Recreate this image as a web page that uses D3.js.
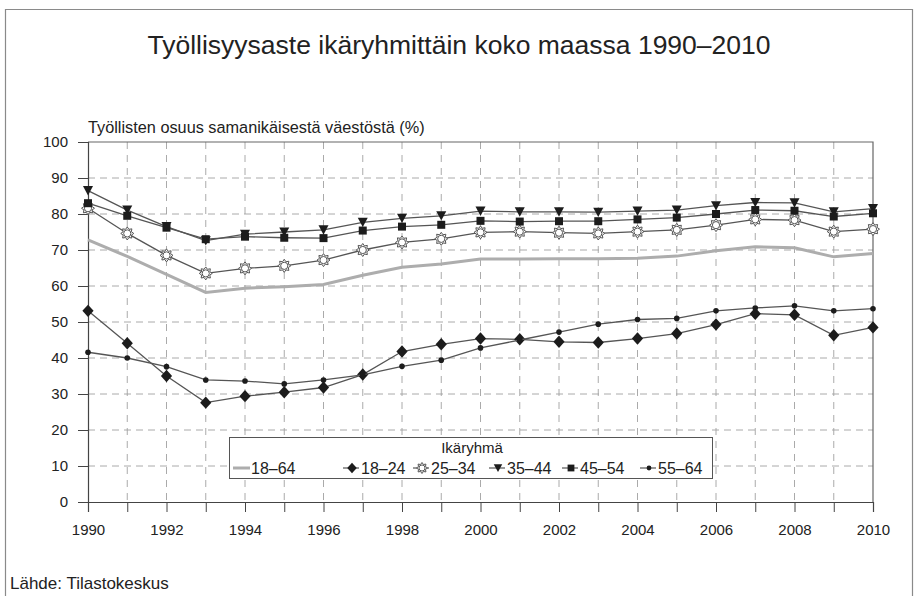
<!DOCTYPE html>
<html>
<head>
<meta charset="utf-8">
<script src="https://cdn.jsdelivr.net/npm/d3@7"></script>
<style>
  html, body { margin: 0; padding: 0; background: #fff; }
  svg { display: block; font-family: "Liberation Sans", Arial, sans-serif; }
</style>
</head>
<body>
<svg id="chart" width="920" height="596"></svg>
<script>
// Employment rate by age group, whole country, 1990–2010 (%)
const years = [1990, 1991, 1992, 1993, 1994, 1995, 1996, 1997, 1998, 1999, 2000,
               2001, 2002, 2003, 2004, 2005, 2006, 2007, 2008, 2009, 2010];
const xTickLabels = [1990, 1992, 1994, 1996, 1998, 2000, 2002, 2004, 2006, 2008, 2010];
const yTicks = [0, 10, 20, 30, 40, 50, 60, 70, 80, 90, 100];

const age18_64 = [72.8, 68.2, 63.2, 58.2, 59.4, 59.8, 60.4, 63.0, 65.2, 66.1, 67.5,
                  67.5, 67.6, 67.6, 67.7, 68.3, 69.8, 70.9, 70.6, 68.1, 69.0];
const age18_24 = [53.1, 44.1, 35.0, 27.6, 29.4, 30.5, 31.8, 35.4, 41.8, 43.8, 45.4,
                  45.2, 44.5, 44.3, 45.4, 46.8, 49.3, 52.3, 52.0, 46.3, 48.5];
const age25_34 = [81.6, 74.6, 68.5, 63.5, 64.9, 65.6, 67.2, 70.0, 72.1, 73.1, 74.9,
                  75.1, 74.8, 74.6, 75.1, 75.6, 76.9, 78.5, 78.3, 75.1, 75.8];
const age35_44 = [86.5, 81.1, 76.5, 72.6, 74.4, 75.0, 75.6, 77.7, 78.8, 79.5, 80.8,
                  80.6, 80.6, 80.5, 80.8, 81.1, 82.3, 83.2, 83.1, 80.6, 81.5];
const age45_54 = [83.0, 79.5, 76.2, 73.0, 73.7, 73.4, 73.3, 75.4, 76.5, 77.0, 78.1,
                  77.9, 78.0, 78.0, 78.5, 79.0, 80.0, 81.1, 80.9, 79.3, 80.2];
const age55_64 = [41.6, 40.0, 37.6, 33.9, 33.6, 32.8, 33.9, 35.3, 37.7, 39.4, 42.8,
                  45.0, 47.2, 49.4, 50.7, 51.0, 53.1, 53.9, 54.5, 53.1, 53.7];

const seriesNames = ["18–64", "18–24", "25–34", "35–44", "45–54", "55–64"];
const seriesValues = [age18_64, age18_24, age25_34, age35_44, age45_54, age55_64];
const markerKinds = ["none", "diamond", "sun", "triangle", "square", "dot"];

const titleText = "Työllisyysaste ikäryhmittäin koko maassa 1990–2010";
const yAxisTitle = "Työllisten osuus samanikäisestä väestöstä (%)";
const legendTitle = "Ikäryhmä";
const sourceText = "Lähde: Tilastokeskus";

const svg = d3.select("#chart");

// outer frame
svg.append("path")
  .attr("d", "M5.5,600 V9.5 H912.5 V600")
  .attr("fill", "none").attr("stroke", "#8a8a8a").attr("stroke-width", 1.2);

svg.append("text")
  .attr("x", 459).attr("y", 54)
  .attr("text-anchor", "middle")
  .attr("font-size", 26.5).attr("fill", "#222")
  .text(titleText);

svg.append("text")
  .attr("x", 88).attr("y", 133)
  .attr("font-size", 16.3).attr("fill", "#222")
  .text(yAxisTitle);

svg.append("text")
  .attr("x", 10).attr("y", 589)
  .attr("font-size", 17).attr("fill", "#222")
  .text(sourceText);

const plot = { left: 88, right: 873, top: 142, bottom: 502 };
const x = d3.scaleLinear().domain([years[0], years[years.length - 1]]).range([plot.left, plot.right]);
const y = d3.scaleLinear().domain([0, 100]).range([plot.bottom, plot.top]);

// grid
const grid = svg.append("g").attr("stroke", "#a0a0a0").attr("stroke-width", 0.9);
grid.selectAll("line.h").data(yTicks.filter(v => v > 0 && v < 100)).join("line")
  .attr("x1", plot.left).attr("x2", plot.right)
  .attr("y1", d => y(d)).attr("y2", d => y(d))
  .attr("stroke-dasharray", "7,5");
grid.selectAll("line.v").data(years.slice(1, -1)).join("line")
  .attr("x1", d => x(d)).attr("x2", d => x(d))
  .attr("y1", plot.top).attr("y2", plot.bottom)
  .attr("stroke-dasharray", "7,6");

// plot frame: top and right
svg.append("path")
  .attr("d", `M${plot.left},${y(100)} H${plot.right} V${plot.bottom}`)
  .attr("fill", "none").attr("stroke", "#666").attr("stroke-width", 1.2);

// axes
const yAxis = svg.append("g")
  .attr("transform", `translate(${plot.left},0)`)
  .call(d3.axisLeft(y).tickValues(yTicks).tickSize(10).tickPadding(10));
const xAxis = svg.append("g")
  .attr("transform", `translate(0,${plot.bottom})`)
  .call(d3.axisBottom(x).tickValues(years).tickSize(10).tickPadding(12)
        .tickFormat(d => xTickLabels.includes(d) ? String(d) : ""));
[yAxis, xAxis].forEach(a => {
  a.select(".domain").attr("stroke", "#444").attr("stroke-width", 1.2);
  a.selectAll(".tick line").attr("stroke", "#444");
  a.selectAll(".tick text").attr("font-size", 15).attr("fill", "#222")
    .attr("font-family", "Liberation Sans, Arial, sans-serif");
});

// marker shapes
function sunPath(r) {
  const pts = [];
  const n = 8;
  for (let i = 0; i < n * 2; i++) {
    const a = Math.PI * i / n;
    const rr = i % 2 === 0 ? r : r * 0.68;
    pts.push([Math.cos(a) * rr, Math.sin(a) * rr]);
  }
  return "M" + pts.map(p => p.join(",")).join("L") + "Z";
}
function drawMarker(g, kind, scale) {
  const s = scale || 1;
  if (kind === "diamond") {
    g.append("path")
      .attr("d", `M0,${-6.2 * s}L${5.6 * s},0L0,${6.2 * s}L${-5.6 * s},0Z`)
      .attr("fill", "#1c1c1c");
  } else if (kind === "sun") {
    g.append("path").attr("d", sunPath(6.5 * s))
      .attr("fill", "#fff").attr("stroke", "#555").attr("stroke-width", 1);
    g.append("circle").attr("r", 3.6 * s)
      .attr("fill", "#fff").attr("stroke", "#555").attr("stroke-width", 1);
  } else if (kind === "triangle") {
    g.append("path")
      .attr("d", `M${-5 * s},${-4.5 * s}L${5 * s},${-4.5 * s}L0,${4.8 * s}Z`)
      .attr("fill", "#1c1c1c");
  } else if (kind === "square") {
    g.append("rect").attr("x", -4 * s).attr("y", -4 * s)
      .attr("width", 8 * s).attr("height", 8 * s).attr("fill", "#1c1c1c");
  } else if (kind === "dot") {
    g.append("circle").attr("r", 2.8 * s).attr("fill", "#1c1c1c");
  }
}

const line = d3.line().x(d => x(d.year)).y(d => y(d.value));

// draw series: total line first, then age groups
seriesValues.forEach((vals, i) => {
  const pts = years.map((yr, j) => ({ year: yr, value: vals[j] }));
  const g = svg.append("g").attr("class", "series");
  if (markerKinds[i] === "none") {
    g.append("path").attr("d", line(pts))
      .attr("fill", "none").attr("stroke", "#adadad").attr("stroke-width", 3);
  } else {
    g.append("path").attr("d", line(pts))
      .attr("fill", "none").attr("stroke", "#555").attr("stroke-width", 1.3);
    pts.forEach(p => {
      const m = g.append("g").attr("transform", `translate(${x(p.year)},${y(p.value)})`);
      drawMarker(m, markerKinds[i]);
    });
  }
});

// legend
const legend = svg.append("g");
legend.append("rect")
  .attr("x", 229.5).attr("y", 437.5).attr("width", 483).attr("height", 41)
  .attr("fill", "#fff").attr("stroke", "#555").attr("stroke-width", 1);
legend.append("text")
  .attr("x", 472).attr("y", 453).attr("text-anchor", "middle")
  .attr("font-size", 15).attr("fill", "#222").text(legendTitle);
const legendX = [233, 343, 413, 489, 562, 640];
seriesNames.forEach((name, i) => {
  const g = legend.append("g").attr("transform", `translate(${legendX[i]},468)`);
  if (markerKinds[i] === "none") {
    g.append("line").attr("x1", 0).attr("x2", 17)
      .attr("stroke", "#adadad").attr("stroke-width", 3);
  } else {
    g.append("line").attr("x1", 0).attr("x2", 16)
      .attr("stroke", "#555").attr("stroke-width", 1.2);
    const m = g.append("g").attr("transform", "translate(9,0)");
    drawMarker(m, markerKinds[i], 0.85);
  }
  g.append("text").attr("x", 18).attr("y", 5.5)
    .attr("font-size", 16).attr("fill", "#222").text(name);
});
</script>
</body>
</html>
